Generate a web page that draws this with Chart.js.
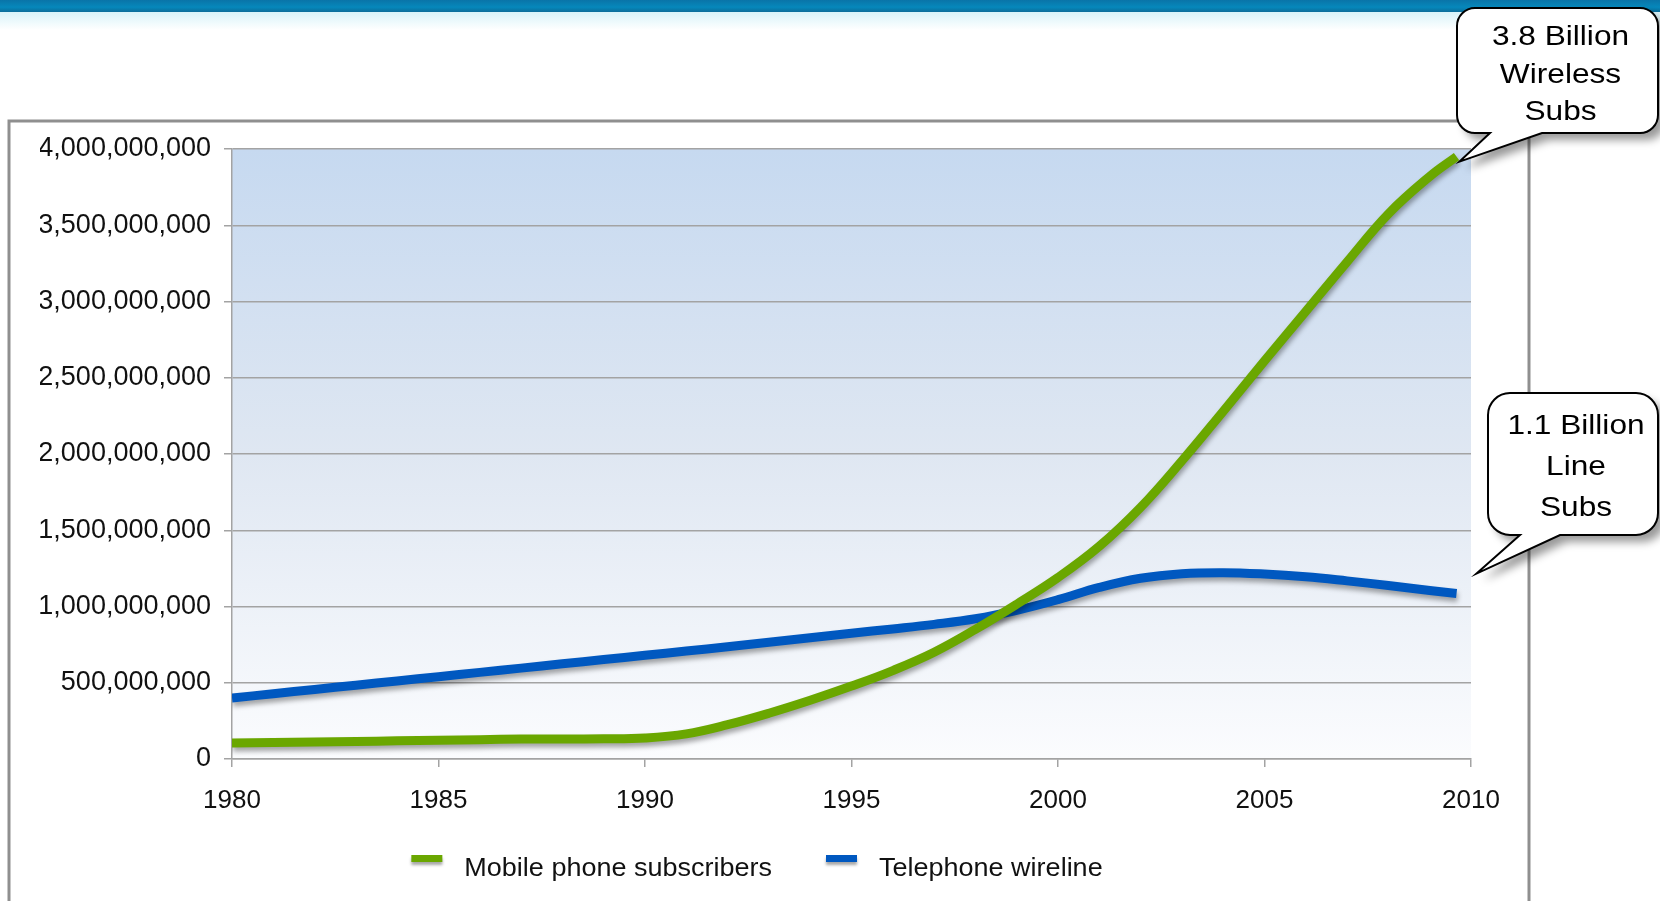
<!DOCTYPE html>
<html>
<head>
<meta charset="utf-8">
<script src="https://cdn.jsdelivr.net/npm/chart.js@4.4.1/dist/chart.umd.min.js"></script>
<style>
  html, body { margin: 0; padding: 0; background: #fff; }
  body { width: 1660px; height: 901px; position: relative; overflow: hidden; }
  #topBar { position: absolute; left: 0; top: 0; width: 1660px; height: 12px;
    background: linear-gradient(#0a74a8, #0688bb 60%, #0b6d9a); }
  #topFade { position: absolute; left: 0; top: 12px; width: 1660px; height: 18px;
    background: linear-gradient(rgba(190, 235, 245, 0.6), rgba(255, 255, 255, 0)); }
  #chart { position: absolute; left: 0; top: 0; }
</style>
</head>
<body>
<div id="topBar"></div>
<div id="topFade"></div>
<canvas id="chart" width="1660" height="901"></canvas>
<script>
// values, in millions of subscribers
const years = [
  1980, 1981, 1982, 1983, 1984, 1985, 1986, 1987, 1988, 1989,
  1990, 1991, 1992, 1993, 1994, 1995, 1996, 1997, 1998, 1999,
  2000, 2001, 2002, 2003, 2004, 2005, 2006, 2007, 2008, 2009, 2009.65,
];
const mobileSubs = [
  105, 108, 111, 115, 119, 123, 127, 131, 131, 132,
  138, 165, 225, 300, 385, 478, 580, 700, 850, 1015,
  1190, 1395, 1650, 1955, 2280, 2610, 2935, 3260, 3575, 3820, 3950,
];
const wirelineSubs = [
  400, 428, 456, 484, 512, 540, 568, 596, 624, 652,
  680, 708, 736, 765, 795, 825, 853, 883, 920, 975,
  1045, 1125, 1185, 1215, 1222, 1213, 1195, 1168, 1138, 1105, 1085,
];
const seriesLabels = ["Mobile phone subscribers", "Telephone wireline"];
const xTicks = { min: 1980, max: 2010, step: 5 };
const yTicks = { min: 0, max: 4000000000, step: 500000000 };
const callouts = [
  ["3.8 Billion", "Wireless", "Subs"],
  ["1.1 Billion", "Line", "Subs"],
];

const GREEN = "#6aa700";
const BLUE = "#0058c0";
const GRID = "#a3a3a3";
const FONT = '"Liberation Sans", Arial, sans-serif';

Chart.defaults.font.family = FONT;
Chart.defaults.color = "#111";

const toPoints = (vals) => years.map((yr, i) => ({ x: yr, y: vals[i] * 1e6 }));

// frame around the chart and the blue gradient behind the plot
const backdrop = {
  id: "backdrop",
  beforeDraw(chart) {
    const { ctx, chartArea: a } = chart;
    ctx.save();
    ctx.strokeStyle = "#8f8f8f";
    ctx.lineWidth = 3;
    ctx.strokeRect(9, 121, 1520, 800);
    const g = ctx.createLinearGradient(0, a.top, 0, a.bottom);
    g.addColorStop(0, "#c6d9f0");
    g.addColorStop(0.5, "#dfe7f2");
    g.addColorStop(1, "#fbfcfe");
    ctx.fillStyle = g;
    ctx.fillRect(a.left, a.top, a.right - a.left, a.bottom - a.top);
    ctx.restore();
  },
};

// soft drop shadow under the lines
const lineShadow = {
  id: "lineShadow",
  beforeDatasetDraw(chart) {
    const ctx = chart.ctx;
    ctx.save();
    ctx.shadowColor = "rgba(0,0,0,0.35)";
    ctx.shadowBlur = 5;
    ctx.shadowOffsetX = 1;
    ctx.shadowOffsetY = 4;
  },
  afterDatasetDraw(chart) {
    chart.ctx.restore();
  },
};

// text drawn a little wider than the font, like the original
function wideText(ctx, text, x, y, sx) {
  ctx.save();
  ctx.translate(x, y);
  ctx.scale(sx, 1);
  ctx.fillText(text, 0, 0);
  ctx.restore();
}

// legend row under the axis
const legendRow = {
  id: "legendRow",
  afterDraw(chart) {
    const ctx = chart.ctx;
    const sx = 1.08;
    ctx.save();
    ctx.font = "25px " + FONT;
    ctx.textBaseline = "alphabetic";
    ctx.textAlign = "left";
    const items = chart.data.datasets.map((d) => ({
      text: d.label,
      color: d.borderColor,
      w: ctx.measureText(d.label).width * sx,
    }));
    const total = items.reduce((s, it) => s + 30 + 22 + it.w, 0) + 54 * (items.length - 1);
    let x = 756 - total / 2;
    items.forEach((it) => {
      ctx.save();
      ctx.shadowColor = "rgba(0,0,0,0.35)";
      ctx.shadowBlur = 3;
      ctx.shadowOffsetY = 3;
      ctx.fillStyle = it.color;
      ctx.fillRect(x, 855, 31, 7);
      ctx.restore();
      ctx.fillStyle = "#111";
      wideText(ctx, it.text, x + 31 + 22, 876, sx);
      x += 31 + 22 + it.w + 54;
    });
    ctx.restore();
  },
};

function calloutPath(ctx, x, y, w, h, r, b1, b2, tip) {
  ctx.beginPath();
  ctx.moveTo(x + r, y);
  ctx.lineTo(x + w - r, y);
  ctx.arcTo(x + w, y, x + w, y + r, r);
  ctx.lineTo(x + w, y + h - r);
  ctx.arcTo(x + w, y + h, x + w - r, y + h, r);
  ctx.lineTo(b2, y + h);
  ctx.lineTo(tip.x, tip.y);
  ctx.lineTo(b1, y + h);
  ctx.lineTo(x + r, y + h);
  ctx.arcTo(x, y + h, x, y + h - r, r);
  ctx.lineTo(x, y + r);
  ctx.arcTo(x, y, x + r, y, r);
  ctx.closePath();
}

// speech bubbles pointing at the last point of each series
const bubbles = {
  id: "bubbles",
  afterDraw(chart) {
    const ctx = chart.ctx;
    const specs = [
      { ds: 0, dx: 3, dy: 5, x: 1457, y: 8, w: 201, h: 125, r: 18, b1: 1490, b2: 1542, base: [45, 83, 120] },
      { ds: 1, dx: 20, dy: -20, x: 1488, y: 393, w: 170, h: 142, r: 22, b1: 1520, b2: 1560, base: [434, 475, 516] },
    ];
    specs.forEach((s, i) => {
      const pts = chart.getDatasetMeta(s.ds).data;
      const last = pts[pts.length - 1];
      const tip = { x: last.x + s.dx, y: last.y + s.dy };
      ctx.save();
      calloutPath(ctx, s.x, s.y, s.w, s.h, s.r, s.b1, s.b2, tip);
      ctx.shadowColor = "rgba(0,0,0,0.4)";
      ctx.shadowBlur = 9;
      ctx.shadowOffsetX = 7;
      ctx.shadowOffsetY = 7;
      ctx.fillStyle = "#fff";
      ctx.fill();
      ctx.shadowColor = "transparent";
      ctx.lineWidth = 2;
      ctx.strokeStyle = "#000";
      ctx.stroke();
      ctx.fillStyle = "#000";
      ctx.font = "28px " + FONT;
      ctx.textAlign = "center";
      ctx.textBaseline = "alphabetic";
      const cx = s.x + s.w / 2 + 3;
      callouts[i].forEach((t, k) => wideText(ctx, t, cx, s.base[k], 1.13));
      ctx.restore();
    });
  },
};

new Chart(document.getElementById("chart"), {
  type: "line",
  data: {
    datasets: [
      {
        label: seriesLabels[0],
        data: toPoints(mobileSubs),
        borderColor: GREEN,
        backgroundColor: GREEN,
        borderWidth: 9,
        pointRadius: 0,
        tension: 0.4,
        fill: false,
      },
      {
        label: seriesLabels[1],
        data: toPoints(wirelineSubs),
        borderColor: BLUE,
        backgroundColor: BLUE,
        borderWidth: 9,
        pointRadius: 0,
        tension: 0.4,
        fill: false,
      },
    ],
  },
  options: {
    responsive: false,
    animation: false,
    devicePixelRatio: 1,
    layout: { padding: { left: 40, right: 189, top: 149, bottom: 82 } },
    plugins: {
      tooltip: { enabled: false },
      legend: { display: false },
    },
    scales: {
      x: {
        type: "linear",
        min: xTicks.min,
        max: xTicks.max,
        ticks: {
          stepSize: xTicks.step,
          callback: (v) => String(v),
          font: { size: 26 },
          color: "#111",
          padding: 18,
        },
        grid: { drawOnChartArea: false, tickLength: 8, color: GRID, lineWidth: 1.5 },
        border: { color: GRID, width: 1.5 },
        afterFit(scale) {
          scale.height = 60;
        },
      },
      y: {
        min: yTicks.min,
        max: yTicks.max,
        ticks: {
          stepSize: yTicks.step,
          callback: (v) => v.toLocaleString("en-US"),
          font: { size: 27 },
          color: "#111",
          padding: 13,
        },
        grid: { color: GRID, lineWidth: 1.5, tickLength: 8 },
        border: { color: GRID, width: 1.5 },
        afterFit(scale) {
          scale.width = 192;
        },
      },
    },
  },
  plugins: [backdrop, lineShadow, legendRow, bubbles],
});
</script>
</body>
</html>
